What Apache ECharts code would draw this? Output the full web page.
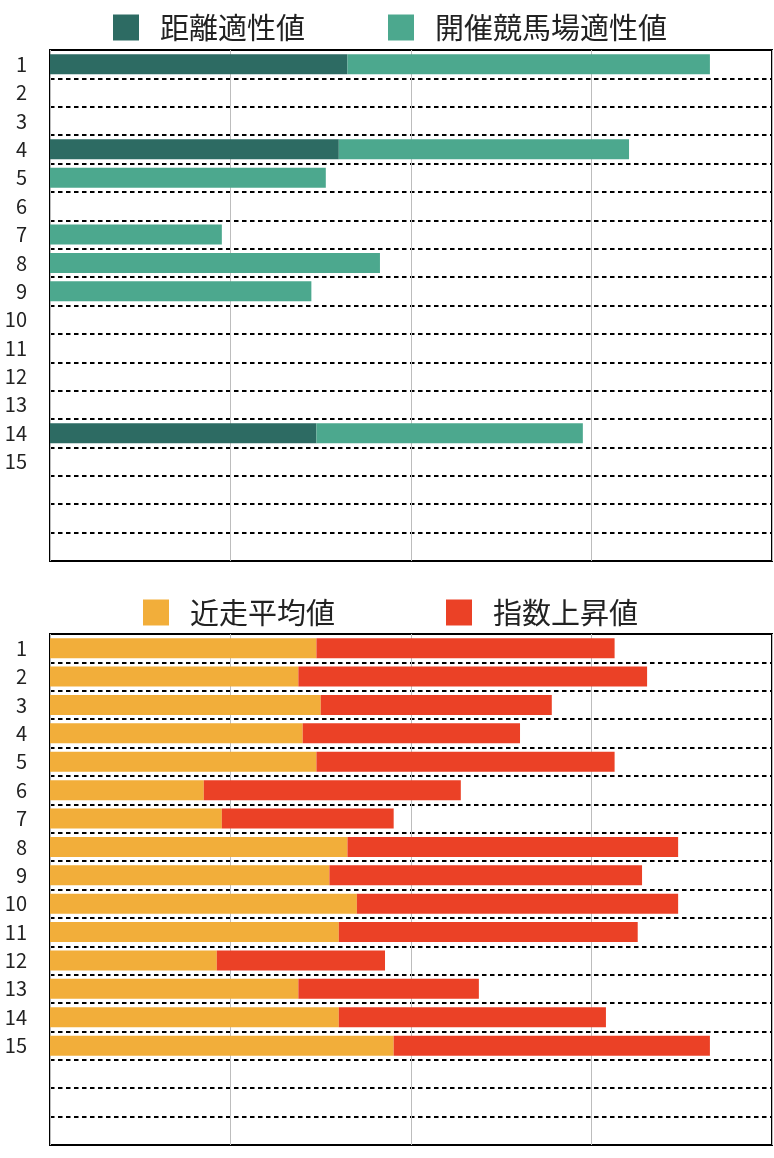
<!DOCTYPE html>
<html>
<head>
<meta charset="utf-8">
<script src="https://cdn.jsdelivr.net/npm/echarts@6/dist/echarts.min.js"></script>
<style>
html,body{margin:0;padding:0;background:#fff;}
#chart{width:774px;height:1158px;}
</style>
</head>
<body>
<div id="chart"></div>
<script>
// ---- data ----
const rowLabels = ['1','2','3','4','5','6','7','8','9','10','11','12','13','14','15','','',''];
const topLegend = ['距離適性値', '開催競馬場適性値'];
const bottomLegend = ['近走平均値', '指数上昇値'];
const distanceFit = [41.2, null, null, 40.0, null, null, null, null, null, null, null, null, null, 36.9, null];
const venueFit    = [50.2, null, null, 40.2, 38.2, null, 23.8, 45.7, 36.2, null, null, null, null, 36.9, null];
const recentAvg   = [36.9, 34.4, 37.5, 35.0, 36.9, 21.3, 23.8, 41.2, 38.7, 42.5, 40.0, 23.1, 34.4, 40.0, 47.6];
const indexRise   = [41.3, 48.3, 32.0, 30.1, 41.3, 35.6, 23.8, 45.8, 43.3, 44.5, 41.4, 23.3, 25.0, 37.0, 43.8];

const FONT = '"Noto Sans CJK JP", "Noto Sans", sans-serif';
const chart = echarts.init(document.getElementById('chart'), null, {renderer: 'canvas'});

function gridDef(top) {
  return {left: 50, right: 2, top: top, height: 511, show: true, borderColor: '#000', borderWidth: 2, backgroundColor: 'transparent', containLabel: false};
}
function xAxisDef(i) {
  return {
    type: 'value', gridIndex: i, min: 0, max: 100, interval: 25,
    axisLabel: {show: false}, axisTick: {show: false}, axisLine: {show: false},
    splitLine: {show: true, lineStyle: {color: '#bdbdbd', width: 1}}
  };
}
function yAxisDef(i) {
  return {
    type: 'category', gridIndex: i, data: rowLabels, inverse: true,
    axisTick: {show: false}, axisLine: {show: false},
    axisLabel: {color: '#222', fontSize: 20, fontFamily: FONT, margin: 23},
    splitLine: {show: true, lineStyle: {color: '#000', width: 2, type: [4.5, 3.5]}}
  };
}
function legendDef(top, left, gap, names) {
  return {
    top: top, left: left, padding: 0, itemWidth: 26, itemHeight: 26, itemGap: gap,
    icon: 'rect', data: names,
    textStyle: {fontSize: 29, color: '#222', fontFamily: FONT, padding: [0, 0, 0, 16]}
  };
}

const option = {
  animation: false,
  backgroundColor: '#fff',
  legend: [
    legendDef(13, 113, 83, topLegend),
    legendDef(598, 143, 111, bottomLegend)
  ],
  grid: [gridDef(50), gridDef(634)],
  xAxis: [xAxisDef(0), xAxisDef(1)],
  yAxis: [yAxisDef(0), yAxisDef(1)],
  series: [
    {name: topLegend[0], type: 'bar', stack: 'top', xAxisIndex: 0, yAxisIndex: 0, barWidth: 20, itemStyle: {color: '#2d6b63'}, data: distanceFit},
    {name: topLegend[1], type: 'bar', stack: 'top', xAxisIndex: 0, yAxisIndex: 0, barWidth: 20, itemStyle: {color: '#4ca88e'}, data: venueFit},
    {name: bottomLegend[0], type: 'bar', stack: 'bot', xAxisIndex: 1, yAxisIndex: 1, barWidth: 20, itemStyle: {color: '#f2ae3a'}, data: recentAvg},
    {name: bottomLegend[1], type: 'bar', stack: 'bot', xAxisIndex: 1, yAxisIndex: 1, barWidth: 20, itemStyle: {color: '#eb4126'}, data: indexRise}
  ]
};
chart.setOption(option);
</script>
</body>
</html>
